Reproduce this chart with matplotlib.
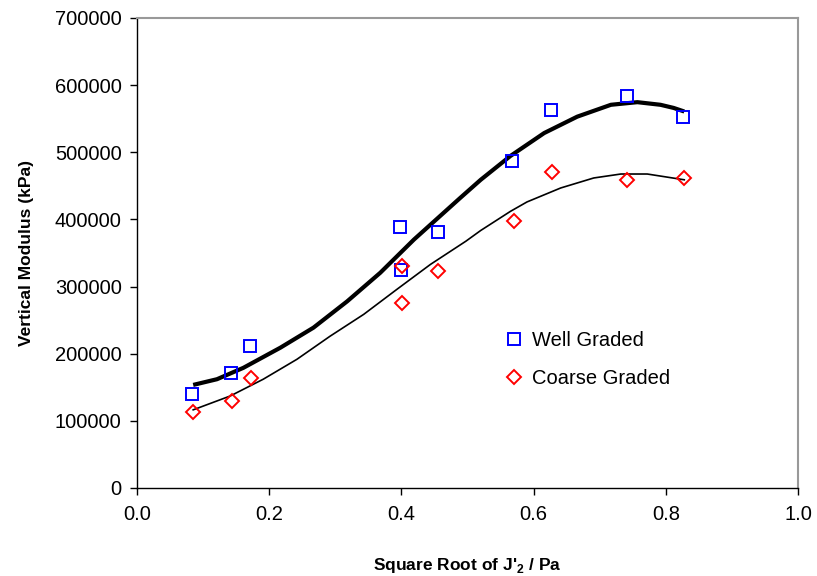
import matplotlib
matplotlib.use("Agg")
import matplotlib.pyplot as plt

plt.rcParams['font.family'] = ['Liberation Sans', 'DejaVu Sans']

# Measured points
well_x = [0.083, 0.142, 0.171, 0.398, 0.399, 0.455, 0.568, 0.627, 0.741, 0.826]
well_y = [140000, 171000, 212000, 389000, 324000, 381000, 487000, 563000, 584000, 552000]
coarse_x = [0.085, 0.143, 0.173, 0.401, 0.401, 0.456, 0.570, 0.628, 0.742, 0.827]
coarse_y = [112500, 130000, 164000, 330000, 276000, 322500, 398000, 470000, 458000, 461000]

# Trend curves
well_fit_x = [0.085, 0.121, 0.161, 0.217, 0.267, 0.318, 0.368, 0.419, 0.489, 0.520,
              0.565, 0.616, 0.666, 0.717, 0.757, 0.792, 0.812, 0.828]
well_fit_y = [153500, 162000, 179000, 209000, 238800, 278000, 320500, 370000, 432000, 459000,
              494500, 528600, 553000, 570700, 574600, 570700, 566000, 560700]
coarse_fit_x = [0.085, 0.141, 0.191, 0.242, 0.292, 0.343, 0.393, 0.444, 0.4975, 0.520,
                0.565, 0.590, 0.641, 0.691, 0.732, 0.772, 0.802, 0.828]
coarse_fit_y = [116400, 137000, 162000, 191700, 226000, 258600, 295700, 333000, 367500, 383500,
                412000, 426000, 446800, 461700, 467600, 467600, 463000, 459000]

x_ticks = [0.0, 0.2, 0.4, 0.6, 0.8, 1.0]
y_ticks = [0, 100000, 200000, 300000, 400000, 500000, 600000, 700000]

fig = plt.figure(figsize=(8.17, 5.76), dpi=100)
ax = fig.add_axes([0.1677, 0.1528, 0.809, 0.816])

ax.plot(well_fit_x, well_fit_y, color='black', lw=3.0, solid_capstyle='butt',
        solid_joinstyle='round', zorder=2)
ax.plot(coarse_fit_x, coarse_fit_y, color='black', lw=1.2, solid_joinstyle='round', zorder=2)
ax.plot(well_x, well_y, linestyle='none', marker='s', markersize=8, markerfacecolor='none',
        markeredgecolor='#0000FF', markeredgewidth=1.4, label='Well Graded', zorder=3)
ax.plot(coarse_x, coarse_y, linestyle='none', marker='D', markersize=7, markerfacecolor='none',
        markeredgecolor='#FF0000', markeredgewidth=1.4, label='Coarse Graded', zorder=3)

ax.set_xlim(0, 1.0)
ax.set_ylim(0, 700000)
ax.set_xticks(x_ticks)
ax.set_xticklabels([f"{v:.1f}" for v in x_ticks])
ax.set_yticks(y_ticks)
ax.set_yticklabels([str(v) for v in y_ticks])
ax.tick_params(axis='both', direction='out', length=5, width=1, labelsize=14.5, colors='black')
ax.tick_params(axis='x', pad=7)
ax.tick_params(axis='y', pad=6)

for s in ['left', 'bottom']:
    ax.spines[s].set_color('black')
    ax.spines[s].set_linewidth(1.0)
for s in ['top', 'right']:
    ax.spines[s].set_color('#999999')
    ax.spines[s].set_linewidth(1.5)

ax.set_xlabel("Square Root of J'$_\\mathregular{2}$ / Pa", fontsize=12.5, fontweight='bold', labelpad=23)
ax.set_ylabel("Vertical Modulus (kPa)", fontsize=12.5, fontweight='bold', labelpad=15)

ax.legend(loc='upper left', bbox_to_anchor=(0.543, 0.355), frameon=False, fontsize=14.5,
          handlelength=0.8, handletextpad=0.5, labelspacing=0.95, borderpad=0)

fig.savefig('out.png', dpi=100)
